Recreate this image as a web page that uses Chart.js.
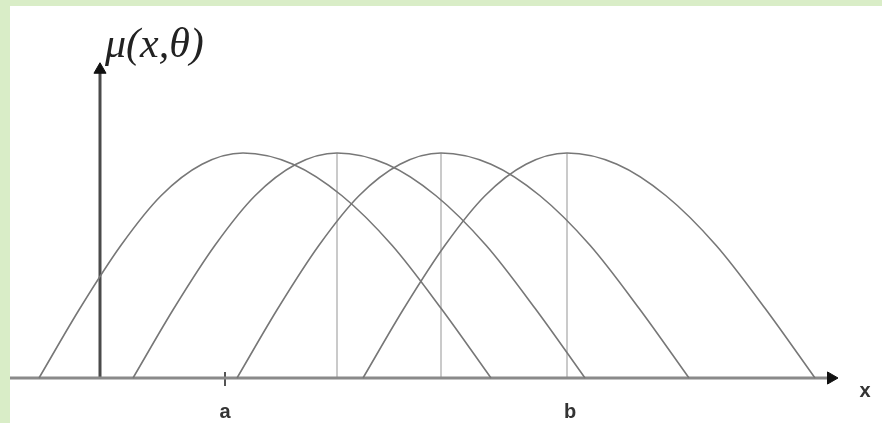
<!DOCTYPE html>
<html>
<head>
<meta charset="utf-8">
<script src="https://cdn.jsdelivr.net/npm/chart.js@4"></script>
<style>
  html, body { margin: 0; padding: 0; background: #d9edc7; }
  #frame { position: absolute; left: 10px; top: 6px; width: 872px; height: 417px; background: #fff; }
</style>
</head>
<body>
<div id="frame"><canvas id="mycanvas" width="872" height="417"></canvas></div>
<script>
// heights along each arc (same shape for all four)
var muLevels = [0, 0.31, 0.59, 0.81, 0.95, 1, 0.95, 0.81, 0.59, 0.31, 0];

// x positions of the points on each arc
var arc1X = [-6.1, -2.0, 2.1, 6.1, 10.2, 14.3, 19.3, 24.2, 29.2, 34.1, 39.1];
var arc2X = [3.3, 7.4, 11.5, 15.5, 19.6, 23.7, 28.7, 33.6, 38.6, 43.5, 48.5];
var arc3X = [13.7, 17.8, 21.9, 25.9, 30.0, 34.1, 39.1, 44.0, 49.0, 53.9, 58.9];
var arc4X = [26.3, 30.4, 34.5, 38.5, 42.6, 46.7, 51.7, 56.6, 61.6, 66.5, 71.5];

// vertical guides at the tops of arcs 2-4
var peakX = [23.7, 34.1, 46.7];

// marks on the x axis
var tickNames = ['a', 'b'];
var tickX = [12.5, 47.0];

var axisEndX = 73.1;   // x arrow head
var axisTopY = 1.37;   // mu arrow head
var xMin = -9, xMax = 78.2;
var yMin = -0.2, yMax = 1.6533;

function pts(xs, ys) {
	var out = [];
	for (var i in xs) out.push({ x: xs[i], y: ys[i] });
	return out;
}

var datasets = [];

[arc1X, arc2X, arc3X, arc4X].forEach(function (xs) {
	datasets.push({
		data: pts(xs, muLevels),
		borderColor: "#777777",
		borderWidth: 1.6,
		pointRadius: 0,
		cubicInterpolationMode: "monotone",
		fill: false
	});
});

// x axis with arrow
datasets.push({
	data: [{ x: xMin, y: 0 }, { x: axisEndX, y: 0 }],
	borderColor: "#8a8a8a",
	borderWidth: 3,
	pointRadius: [0, 7],
	pointStyle: "triangle",
	rotation: 90,
	pointBackgroundColor: "#111",
	pointBorderColor: "#111",
	pointBorderWidth: 1
});

// mu axis with arrow
datasets.push({
	data: [{ x: 0, y: 0 }, { x: 0, y: axisTopY }],
	borderColor: "#4a4a4a",
	borderWidth: 3,
	pointRadius: [0, 7],
	pointStyle: "triangle",
	rotation: 0,
	pointBackgroundColor: "#111",
	pointBorderColor: "#111",
	pointBorderWidth: 1
});

// small tick at a
datasets.push({
	data: [{ x: tickX[0], y: -0.036 }, { x: tickX[0], y: 0.027 }],
	borderColor: "#555",
	borderWidth: 2,
	pointRadius: 0
});

peakX.forEach(function (px) {
	datasets.push({
		data: [{ x: px, y: 0 }, { x: px, y: 1 }],
		borderColor: "#cacaca",
		borderWidth: 2,
		pointRadius: 0
	});
});

var labelsPlugin = {
	id: "axisLabels",
	afterDatasetsDraw: function (chart) {
		var ctx = chart.ctx, xs = chart.scales.x, ys = chart.scales.y;
		var y0 = ys.getPixelForValue(0);
		ctx.save();
		ctx.fillStyle = "#333";
		ctx.font = 'bold 20px "Liberation Sans", Arial, sans-serif';
		ctx.textAlign = "center";
		ctx.textBaseline = "alphabetic";
		for (var i = 0; i < tickNames.length; i++) {
			ctx.fillText(tickNames[i], xs.getPixelForValue(tickX[i]), y0 + 40);
		}
		ctx.fillText("x", xs.getPixelForValue(76.5), y0 + 19);
		ctx.fillStyle = "#222";
		ctx.font = 'italic 42px "Liberation Serif", "Times New Roman", serif';
		ctx.textAlign = "left";
		ctx.fillText("\u03bc(x,\u03b8)", xs.getPixelForValue(0.5), ys.getPixelForValue(1.425));
		ctx.restore();
	}
};

var ctx = document.getElementById("mycanvas");

var LineGraph = new Chart(ctx, {
	type: "line",
	data: { datasets: datasets },
	options: {
		responsive: false,
		animation: false,
		devicePixelRatio: 1,
		layout: { padding: 0, autoPadding: false },
		plugins: { legend: { display: false }, tooltip: { enabled: false } },
		scales: {
			x: { type: "linear", min: xMin, max: xMax, display: false },
			y: { type: "linear", min: yMin, max: yMax, display: false }
		}
	},
	plugins: [labelsPlugin]
});
</script>
</body>
</html>
